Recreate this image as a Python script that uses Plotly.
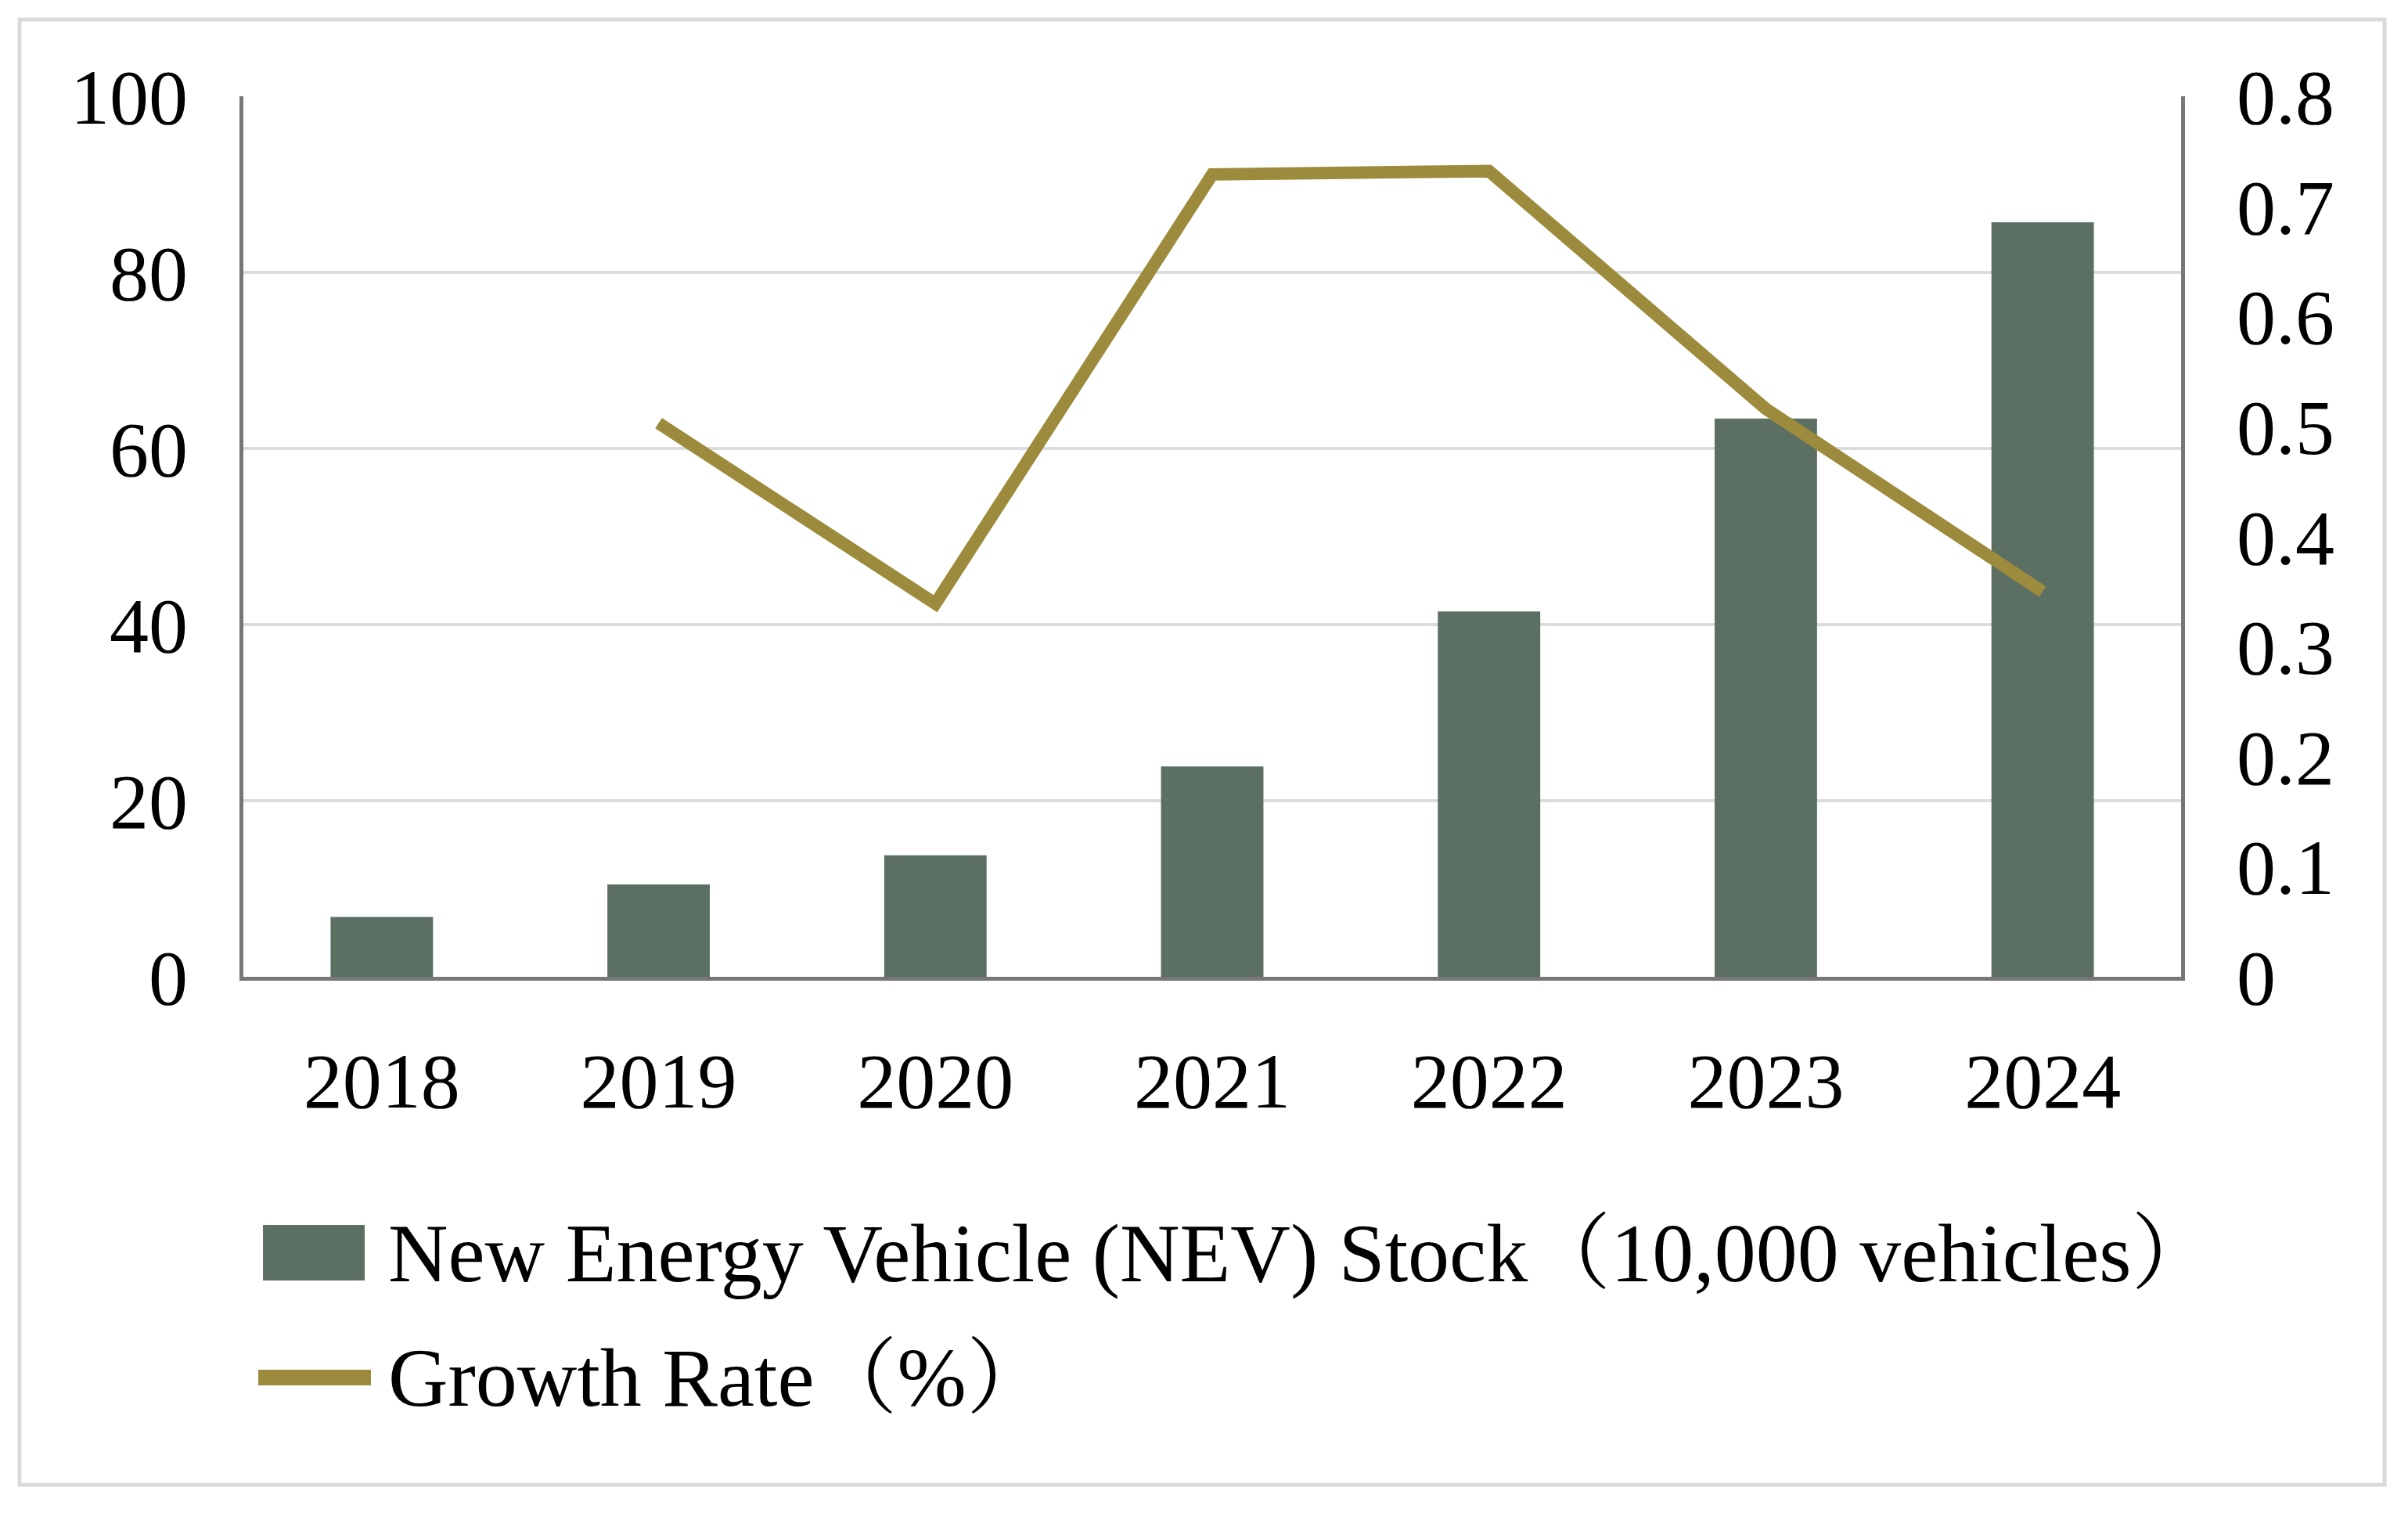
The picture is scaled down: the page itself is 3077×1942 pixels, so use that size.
import plotly.graph_objects as go

years = ["2018", "2019", "2020", "2021", "2022", "2023", "2024"]
nev_stock = [6.8, 10.5, 13.8, 23.9, 41.5, 63.4, 85.7]
growth_rate = [None, 0.503, 0.339, 0.729, 0.732, 0.516, 0.350]

left_ticks = [0, 20, 40, 60, 80, 100]
right_ticks = [0, 0.1, 0.2, 0.3, 0.4, 0.5, 0.6, 0.7, 0.8]
right_labels = ["0", "0.1", "0.2", "0.3", "0.4", "0.5", "0.6", "0.7", "0.8"]

bar_name = "New Energy Vehicle (NEV) Stock（10,000 vehicles）"
line_name = "Growth Rate（%）"

OFF = 8  # page body margin
W, H = 3077 - OFF, 1942 - OFF
L, R, T, B = 311 - OFF, 2787 - OFF, 123 - OFF, 1248 - OFF
FONT = "Liberation Serif, Times New Roman, Noto Serif CJK SC, Noto Sans CJK SC, serif"
BAR_COLOR = "#5B6F62"
LINE_COLOR = "#9C8B3D"
AXIS_COLOR = "#777777"


def px(x):
    return (x - OFF - L) / (R - L)


def py(y):
    return (B - (y - OFF)) / (B - T)


fig = go.Figure()
fig.add_trace(go.Bar(x=years, y=nev_stock, name=bar_name, marker_color=BAR_COLOR,
                     marker_line_width=0, yaxis="y", showlegend=False))
fig.add_trace(go.Scatter(x=years, y=growth_rate, name=line_name, mode="lines",
                         line=dict(color=LINE_COLOR, width=16), yaxis="y2",
                         connectgaps=False, showlegend=False))

shapes = [
    # outer frame
    dict(type="rect", xref="paper", yref="paper", x0=px(25), x1=px(3047), y0=py(25), y1=py(1897),
         line=dict(color="#D9D9D9", width=5), fillcolor="rgba(0,0,0,0)", layer="below"),
    # legend symbols
    dict(type="rect", xref="paper", yref="paper", x0=px(336), x1=px(466), y0=py(1565), y1=py(1636),
         line=dict(width=0), fillcolor=BAR_COLOR),
    dict(type="line", xref="paper", yref="paper", x0=px(330), x1=px(474), y0=py(1760), y1=py(1760),
         line=dict(color=LINE_COLOR, width=20)),
]

annotations = [
    dict(xref="paper", yref="paper", x=px(494), y=py(1601), text=bar_name, showarrow=False,
         xanchor="left", yanchor="middle", font=dict(family=FONT, size=106, color="#000000")),
    dict(xref="paper", yref="paper", x=px(494), y=py(1760), text=line_name, showarrow=False,
         xanchor="left", yanchor="middle", font=dict(family=FONT, size=106, color="#000000")),
]

fig.update_layout(
    width=W, height=H, autosize=False,
    margin=dict(l=L, r=W - R, t=T, b=H - B, pad=0),
    paper_bgcolor="white", plot_bgcolor="white",
    font=dict(family=FONT, size=100, color="#000000"),
    bargap=0.63,
    shapes=shapes, annotations=annotations,
    xaxis=dict(type="category", range=[-0.5, 6.5], showline=True, linecolor=AXIS_COLOR, linewidth=5,
               showgrid=False, ticks="", ticklabelstandoff=42,
               tickfont=dict(family=FONT, size=100, color="#000000"), zeroline=False),
    yaxis=dict(range=[0, 100], tickvals=left_ticks, showline=True, linecolor=AXIS_COLOR, linewidth=5,
               showgrid=True, gridcolor="#DCDCDC", gridwidth=4, zeroline=False, ticks="",
               ticklabelstandoff=46, tickfont=dict(family=FONT, size=100, color="#000000")),
    yaxis2=dict(range=[0, 0.8], tickvals=right_ticks, ticktext=right_labels, overlaying="y", side="right",
                showline=True, linecolor=AXIS_COLOR, linewidth=5, showgrid=False, zeroline=False,
                ticks="", ticklabelstandoff=46,
                tickfont=dict(family=FONT, size=100, color="#000000")),
)

fig.write_html("out.html")
